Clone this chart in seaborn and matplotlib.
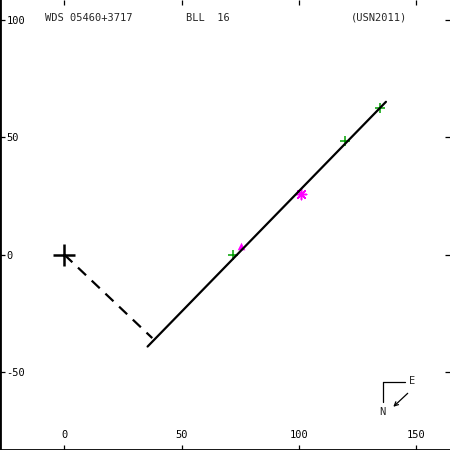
import numpy as np
import pandas as pd
import matplotlib
matplotlib.use("Agg")
import matplotlib.pyplot as plt
import seaborn as sns

# orbit line (end points, arcsec-ish units as on the chart)
orbit_x = [35.5, 137.1]
orbit_y = [-39.1, 65.0]

# dashed line from primary to the line
node_x = [0.0, 37.5]
node_y = [0.0, -35.5]

# observations
green_x = [72.0, 119.6, 134.5]
green_y = [-0.1, 48.5, 62.3]
mag_x = [75.3]
mag_y = [3.7]
star_x = [100.9]
star_y = [25.7]

xticks = [0, 50, 100, 150]
yticks = [-50, 0, 50, 100]

sns.set_style("white")
plt.rcParams["font.family"] = ["DejaVu Sans Mono", "DejaVu Sans"]
plt.rcParams["axes.unicode_minus"] = False

fig = plt.figure(figsize=(4.5, 4.5), dpi=100)
ax = fig.add_axes([0, 0, 1, 1])

orbit = pd.DataFrame({"x": orbit_x, "y": orbit_y})
node = pd.DataFrame({"x": node_x, "y": node_y})
sns.lineplot(data=orbit, x="x", y="y", ax=ax, color="black", lw=1.6,
             sort=False, estimator=None)
sns.lineplot(data=node, x="x", y="y", ax=ax, color="black", lw=1.6,
             sort=False, estimator=None, dashes=False, linestyle=(0, (5, 3.5)))

ax.plot([0], [0], marker="+", color="black", ms=16, mew=1.8, ls="none")

sns.scatterplot(x=green_x, y=green_y, ax=ax, marker="+", color="#00a000",
                s=45, linewidth=1.1)
sns.scatterplot(x=mag_x, y=mag_y, ax=ax, marker="^", color="#ff00ff",
                s=30, linewidth=0)
sns.scatterplot(x=star_x, y=star_y, ax=ax, marker=(8, 2, 0), color="#ff00ff",
                s=55, linewidth=1.1)

ax.set_xlim(-27.4, 164.4)
ax.set_ylim(-83.1, 108.3)
ax.set_xticks(xticks)
ax.set_yticks(yticks)
ax.set_xlabel("")
ax.set_ylabel("")

ax.tick_params(axis="both", direction="in", length=3.8, width=0.9,
               top=True, right=True, left=True, bottom=True,
               labelsize=7.5, colors="black")
ax.tick_params(axis="y", pad=-4.5)
ax.tick_params(axis="x", pad=-7.5)
for lbl in ax.get_yticklabels():
    lbl.set_ha("left")
for lbl in ax.get_xticklabels():
    lbl.set_va("bottom")

for side in ["top", "right"]:
    ax.spines[side].set_visible(False)
for side in ["left", "bottom"]:
    ax.spines[side].set_color("black")
    ax.spines[side].set_linewidth(2.0)

# header texts
ax.text(0.1, 0.96, "WDS 05460+3717", transform=ax.transAxes, fontsize=7.5,
        va="center", ha="left")
ax.text(0.413, 0.96, "BLL  16", transform=ax.transAxes, fontsize=7.5,
        va="center", ha="left")
ax.text(0.78, 0.96, "(USN2011)", transform=ax.transAxes, fontsize=7.5,
        va="center", ha="left")

# compass
ax.plot([0.851, 0.9], [0.152, 0.152], color="black", lw=0.9, transform=ax.transAxes)
ax.plot([0.851, 0.851], [0.152, 0.107], color="black", lw=0.9, transform=ax.transAxes)
ax.text(0.916, 0.154, "E", transform=ax.transAxes, fontsize=7.5, va="center", ha="center")
ax.text(0.849, 0.085, "N", transform=ax.transAxes, fontsize=7.5, va="center", ha="center")
ax.annotate("", xy=(0.874, 0.096), xytext=(0.906, 0.126), xycoords="axes fraction",
            arrowprops=dict(arrowstyle="->", lw=0.9, color="black",
                            shrinkA=0, shrinkB=0, mutation_scale=7))

fig.savefig("out.png", dpi=100)
